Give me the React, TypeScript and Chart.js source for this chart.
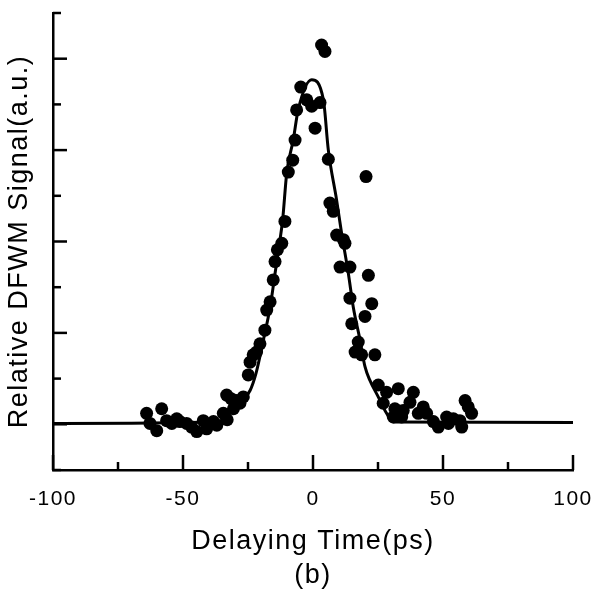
import React, { useEffect, useRef } from 'react';
import { Chart, registerables } from 'chart.js';

Chart.register(...registerables);

// Measured DFWM signal (scatter)
const scatterTime: number[] = [
  -64.0, -62.7, -60.1, -58.2, -56.3, -54.3, -52.4, -51.2, -48.6, -46.7,
  -44.7, -42.2, -40.9, -38.3, -37.0, -34.5, -33.2, -33.0, -31.5, -30.6,
  -29.3, -28.1, -26.8, -24.9, -24.2, -23.0, -21.7, -20.4, -18.5, -17.8,
  -16.5, -15.3, -14.6, -13.7, -12.0, -10.8, -9.5, -7.8, -6.9, -6.3,
  -4.7, -2.4, -0.5, 0.8, 2.7, 3.3, 4.6, 5.9, 6.5, 7.8,
  9.1, 10.4, 11.7, 12.3, 14.2, 14.2, 14.9, 16.2, 17.4, 18.7,
  20.0, 20.4, 21.3, 22.6, 23.8, 25.1, 27.0, 28.3, 30.9, 31.5,
  32.8, 34.1, 34.7, 37.3, 38.6, 40.5, 42.4, 43.7, 46.3, 48.2,
  51.4, 52.1, 54.0, 56.5, 57.2, 58.5, 59.7, 61.0,
];
const scatterSignal: number[] = [
  0.12, 0.01, -0.07, 0.17, 0.04, 0.01, 0.06, 0.03, 0.01, -0.03,
  -0.08, 0.04, -0.05, 0.03, -0.01, 0.12, 0.32, 0.05, 0.28, 0.17,
  0.26, 0.23, 0.30, 0.54, 0.68, 0.76, 0.79, 0.88, 1.03, 1.25,
  1.34, 1.58, 1.78, 1.91, 1.98, 2.22, 2.76, 2.89, 3.11, 3.44,
  3.69, 3.55, 3.48, 3.24, 3.52, 4.15, 4.08, 2.90, 2.42, 2.33,
  2.07, 1.72, 2.02, 1.98, 1.72, 1.38, 1.10, 0.79, 0.90, 0.76,
  1.18, 2.71, 1.63, 1.32, 0.76, 0.43, 0.23, 0.35, 0.08, 0.17,
  0.39, 0.08, 0.15, 0.24, 0.35, 0.12, 0.19, 0.12, 0.03, -0.03,
  0.08, 0.01, 0.06, 0.04, -0.03, 0.26, 0.19, 0.12,
];

// Fitted curve (solid line)
const fitTime: number[] = [
  -100, -37.0, -31.9, -28.1, -24.2, -21.9, -19.1, -16.5, -14.6, -12.7,
  -11.7, -10.1, -7.6, -5.7, -0.5, 4.0, 5.9, 9.1, 11.0, 13.6,
  15.5, 18.1, 20.0, 21.9, 25.1, 28.3, 30.9, 100,
];
const fitSignal: number[] = [
  0.01, 0.025, 0.12, 0.23, 0.37, 0.56, 0.92, 1.28, 1.65, 2.02,
  2.23, 2.75, 3.11, 3.44, 3.77, 3.55, 3.0, 2.45, 2.09, 1.65,
  1.28, 0.92, 0.63, 0.48, 0.30, 0.12, 0.025, 0.02,
];

const xTickValues: number[] = [-100, -50, 0, 50, 100];
const xTitle = 'Delaying Time(ps)';
const panelLabel = '(b)';
const yTitle = 'Relative DFWM Signal(a.u.)';

const FONT = '"Liberation Sans", Arial, Helvetica, sans-serif';

const innerTicks = {
  id: 'innerTicks',
  beforeDraw(chart: any) {
    try { (chart.ctx as any).letterSpacing = '1.5px'; } catch (e) { /* ignore */ }
  },
  afterDraw(chart: any) {
    const ctx = chart.ctx;
    const xs = chart.scales.x;
    const ys = chart.scales.y;
    const { left, bottom } = chart.chartArea;
    ctx.save();
    ctx.strokeStyle = '#000';
    ctx.lineWidth = 2.5;
    ctx.lineCap = 'butt';
    xs.ticks.forEach((t: any) => {
      const p = xs.getPixelForValue(t.value);
      const len = xTickValues.includes(t.value) ? 15 : 8;
      ctx.beginPath();
      ctx.moveTo(p, bottom);
      ctx.lineTo(p, bottom - len);
      ctx.stroke();
    });
    ys.ticks.forEach((t: any) => {
      const p = ys.getPixelForValue(t.value);
      const major = Math.abs(t.value - Math.round(t.value)) < 1e-6;
      const len = major ? 14 : 8;
      ctx.beginPath();
      ctx.moveTo(left, p);
      ctx.lineTo(left + len, p);
      ctx.stroke();
    });
    ctx.restore();
  },
};

export default function App() {
  const canvasRef = useRef<HTMLCanvasElement | null>(null);

  useEffect(() => {
    const canvas = canvasRef.current;
    if (!canvas) return;
    const chart = new Chart(canvas, {
      type: 'scatter',
      data: {
        datasets: [
          {
            label: 'fit',
            data: fitTime.map((x, i) => ({ x, y: fitSignal[i] })),
            showLine: true,
            borderColor: '#000',
            borderWidth: 3,
            pointRadius: 0,
            cubicInterpolationMode: 'monotone',
            fill: false,
          } as any,
          {
            label: 'data',
            data: scatterTime.map((x, i) => ({ x, y: scatterSignal[i] })),
            backgroundColor: '#000',
            borderColor: '#000',
            borderWidth: 0,
            pointRadius: 6.5,
          },
        ],
      },
      options: {
        animation: false,
        responsive: false,
        events: [],
        layout: { padding: { top: 13, right: 23, left: 0, bottom: 0 } },
        plugins: {
          legend: { display: false },
          tooltip: { enabled: false },
        },
        scales: {
          x: {
            type: 'linear',
            min: -100,
            max: 100,
            afterFit: (s: any) => {
              s.height = 121;
              s.paddingLeft = 0;
              s.paddingRight = 0;
            },
            grid: { display: true, drawOnChartArea: false, drawTicks: false },
            border: { display: true, color: '#000', width: 2.5 },
            ticks: {
              stepSize: 25,
              autoSkip: false,
              maxRotation: 0,
              padding: 17,
              color: '#000',
              font: { family: FONT, size: 21 },
              callback: (v: any) => (xTickValues.includes(Number(v)) ? String(v) : ''),
            },
            title: {
              display: true,
              text: [xTitle, panelLabel],
              color: '#000',
              font: { family: FONT, size: 27, lineHeight: 1.26 },
              padding: { top: 0, bottom: -2 },
            },
          },
          y: {
            type: 'linear',
            min: -0.5,
            max: 4.5,
            afterFit: (s: any) => {
              s.width = 53;
              s.paddingTop = 0;
              s.paddingBottom = 0;
            },
            grid: { display: true, drawOnChartArea: false, drawTicks: false },
            border: { display: true, color: '#000', width: 2.5 },
            ticks: { stepSize: 0.5, display: false },
            title: {
              display: true,
              text: yTitle,
              color: '#000',
              font: { family: FONT, size: 27, lineHeight: 1.2 },
              padding: { top: 3, bottom: 0 },
            },
          },
        },
      },
      plugins: [innerTicks],
    });
    return () => chart.destroy();
  }, []);

  return (
    <div style={{ position: 'fixed', left: 0, top: 0, width: 596, height: 591, background: '#fff' }}>
      <canvas ref={canvasRef} width={596} height={591} style={{ display: 'block' }} />
    </div>
  );
}
